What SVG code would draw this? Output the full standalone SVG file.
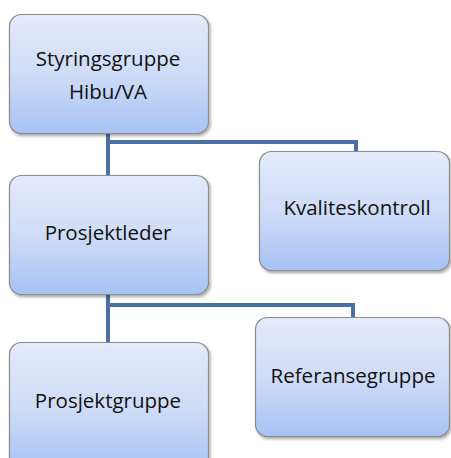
<svg xmlns="http://www.w3.org/2000/svg" width="451" height="458" viewBox="0 0 451 458">
<defs>
<linearGradient id="g" x1="0" y1="0" x2="0" y2="1">
<stop offset="0" stop-color="#e3ebfb"/>
<stop offset="0.5" stop-color="#cfdcf8"/>
<stop offset="1" stop-color="#a6c2f4"/>
</linearGradient>
<filter id="sh" x="-10%" y="-10%" width="130%" height="130%">
<feDropShadow dx="1.5" dy="2" stdDeviation="1.5" flood-color="#000" flood-opacity="0.35"/>
</filter>
</defs>
<style>
.box{fill:url(#g);stroke:#8c8c8c;stroke-width:1.2;filter:url(#sh)}
.t{font-family:"Open Sans","Liberation Sans",sans-serif;font-size:20.5px;fill:#111;text-anchor:middle}
.c{fill:none;stroke:#4a70a4;stroke-width:4}
</style>
<g id="connectors">
<path class="c" d="M108,133 V175 M108,142 H356 V151"/>
<path class="c" d="M108,294 V342 M108,305 H353 V317"/>
</g>
<g id="styringsgruppe">
<rect class="box" x="9.5" y="14.5" width="199" height="119" rx="12"/>
<text class="t" x="108" y="66">Styringsgruppe</text>
<text class="t" x="108" y="99">Hibu/VA</text>
</g>
<g id="kvaliteskontroll">
<rect class="box" x="259.5" y="151.5" width="190" height="119" rx="12"/>
<text class="t" x="357" y="215">Kvaliteskontroll</text>
</g>
<g id="prosjektleder">
<rect class="box" x="9.5" y="175.5" width="199" height="119" rx="12"/>
<text class="t" x="108" y="240">Prosjektleder</text>
</g>
<g id="referansegruppe">
<rect class="box" x="255.5" y="317.5" width="194" height="119" rx="12"/>
<text class="t" x="353" y="383">Referansegruppe</text>
</g>
<g id="prosjektgruppe">
<rect class="box" x="9.5" y="342.5" width="199" height="130" rx="12"/>
<text class="t" x="108" y="408">Prosjektgruppe</text>
</g>
</svg>
